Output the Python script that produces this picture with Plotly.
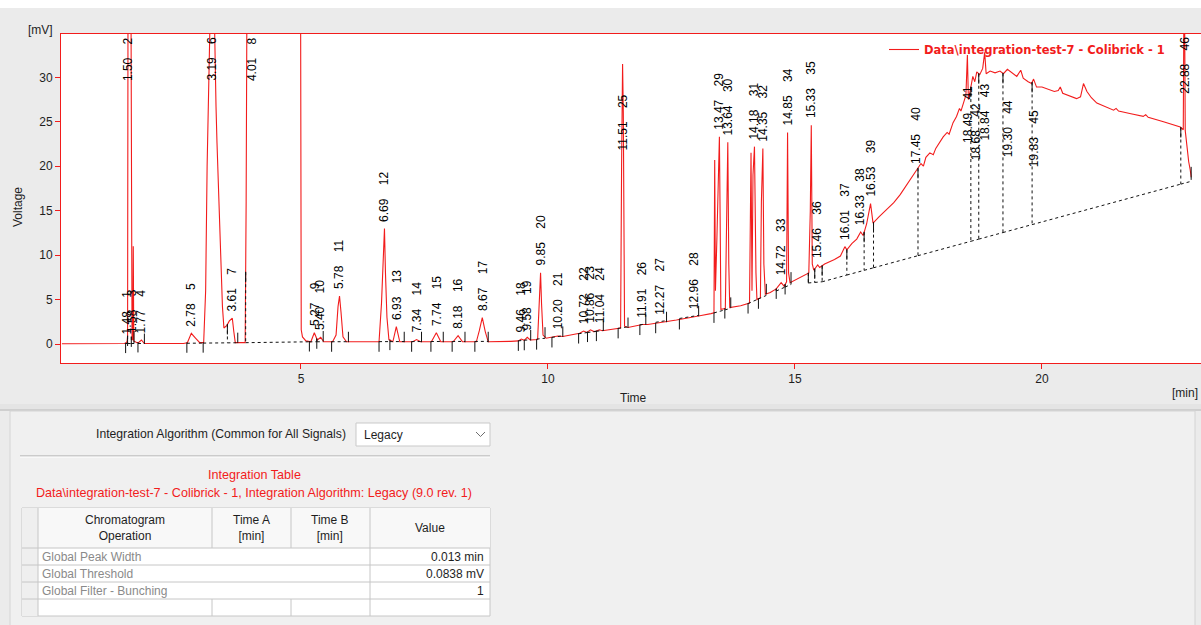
import numpy as np
import plotly.graph_objects as go

# ---------------- peak table (retention time in min, apex in mV) ----------------
peak_no = list(range(1, 47))
peak_rt = [1.48, 1.50, 1.58, 1.77, 2.78, 3.19, 3.61, 4.01, 5.27, 5.40,
           5.78, 6.69, 6.93, 7.34, 7.74, 8.18, 8.67, 9.46, 9.58, 9.85,
           10.20, 10.72, 10.86, 11.04, 11.51, 11.91, 12.27, 12.96, 13.47, 13.64,
           14.18, 14.35, 14.72, 14.85, 15.33, 15.46, 16.01, 16.33, 16.53, 17.45,
           18.49, 18.68, 18.84, 19.30, 19.83, 22.88]
peak_top = [0.3, 45.0, 0.45, 0.45, 1.2, 45.0, 2.9, 45.0, 1.27, 0.75,
            5.4, 13.0, 1.95, 0.5, 1.27, 0.93, 2.96, 0.55, 0.75, 8.0,
            0.9, 1.45, 1.6, 1.6, 31.5, 2.2, 2.45, 3.1, 23.3, 22.7,
            22.2, 22.0, 6.9, 23.8, 24.6, 8.9, 10.95, 12.6, 15.8, 19.4,
            32.5, 30.6, 32.8, 30.9, 29.8, 45.0]
peak_start = [1.45, 1.49, 1.565, 1.70, 2.69, 3.02, 3.51, 3.88, 5.17, 5.32,
              5.62, 6.58, 6.80, 7.24, 7.63, 8.06, 8.52, 9.40, 9.52, 9.77,
              10.08, 10.62, 10.80, 10.98, 11.42, 11.86, 12.18, 12.66, 13.36, 13.58,
              14.05, 14.26, 14.62, 14.80, 15.27, 15.40, 15.55, 16.05, 16.40, 16.59,
              17.49, 18.56, 18.72, 19.21, 19.80, 22.81]
peak_end = [1.49, 1.565, 1.62, 1.83, 3.02, 3.51, 3.72, 5.17, 5.32, 5.45,
            5.96, 6.80, 7.09, 7.44, 7.88, 8.32, 8.79, 9.52, 9.65, 9.94,
            10.30, 10.80, 10.98, 11.12, 11.62, 11.98, 12.40, 13.05, 13.58, 13.70,
            14.26, 14.42, 14.80, 14.92, 15.40, 15.55, 16.05, 16.40, 16.59, 17.49,
            18.56, 18.72, 19.21, 19.80, 22.81, 23.02]

# ---------------- detector signal between the peak apexes ----------------
bg_t = [0.16, 1.00, 1.42, 1.46, 1.49, 1.555, 1.565, 1.595, 1.605, 1.615,
        1.68, 1.72, 1.83, 2.62, 2.70, 2.86, 2.95, 3.03, 3.07, 3.10,
        3.12, 3.14, 3.23, 3.26, 3.28, 3.30, 3.33, 3.36, 3.39, 3.41,
        3.44, 3.50, 3.55, 3.64, 3.67, 3.87, 3.89, 3.91, 4.99, 5.005,
        5.03, 5.10, 5.20, 5.33, 5.46, 5.64, 5.71, 5.75, 5.81, 5.85,
        5.92, 6.58, 6.63, 6.67, 6.71, 6.74, 6.78, 6.86, 7.00, 7.26,
        7.42, 7.64, 7.83, 8.08, 8.27, 8.55, 8.61, 8.73, 8.79, 9.25,
        9.40, 9.52, 9.64, 9.79, 9.82, 9.87, 9.90, 9.96, 10.10, 10.30,
        10.50, 10.64, 10.79, 10.93, 10.98, 11.10, 11.30, 11.47, 11.49, 11.525,
        11.535, 11.55, 11.62, 11.80, 12.02, 12.15, 12.40, 12.60, 12.80, 13.10,
        13.30, 13.36, 13.375, 13.39, 13.42, 13.485, 13.50, 13.59, 13.615, 13.66,
        13.68, 13.90, 14.08, 14.11, 14.13, 14.15, 14.21, 14.23, 14.30, 14.32,
        14.37, 14.40, 14.50, 14.62, 14.78, 14.83, 14.87, 14.90, 15.10, 15.28,
        15.31, 15.35, 15.38, 15.50, 15.60, 15.80, 15.92, 16.05, 16.15, 16.25,
        16.38, 16.45, 16.58, 16.70, 16.86, 17.00, 17.13, 17.30, 17.55, 17.60,
        17.65, 17.73, 17.80, 17.85, 18.00, 18.08, 18.12, 18.20, 18.27, 18.33,
        18.36, 18.41, 18.46, 18.51, 18.55, 18.60, 18.64, 18.74, 18.80, 18.87,
        18.95, 19.05, 19.15, 19.22, 19.40, 19.49, 19.57, 19.62, 19.72, 19.79,
        19.89, 20.00, 20.10, 20.25, 20.33, 20.37, 20.42, 20.55, 20.70, 20.78,
        20.84, 20.91, 21.00, 21.11, 21.30, 21.45, 21.50, 21.55, 21.80, 22.05,
        22.10, 22.15, 22.46, 22.80, 22.86, 22.90, 22.93, 22.97, 23.00, 23.02]
bg_mv = [0.02, 0.02, 0.05, 0.12, 0.9, 45.0, 0.8, 0.5, 11.0, 0.35,
         0.15, 0.2, 0.05, 0.05, 0.15, 0.7, 0.15, 0.15, 6.0, 20.0,
         27.4, 40.0, 42.0, 30.0, 26.7, 22.6, 17.1, 11.7, 7.4, 4.2,
         1.8, 2.1, 2.6, 1.4, 0.15, 0.15, 16.0, 45.0, 45.0, 1.6,
         0.8, 0.35, 0.25, 0.45, 0.25, 0.25, 1.0, 4.2, 3.6, 0.8,
         0.25, 0.25, 4.6, 11.5, 8.0, 3.0, 0.5, 0.25, 0.25, 0.25,
         0.25, 0.25, 0.25, 0.25, 0.25, 0.25, 1.5, 1.4, 0.25, 0.3,
         0.35, 0.42, 0.45, 0.5, 4.5, 4.5, 1.0, 0.65, 0.75, 0.85,
         1.05, 1.2, 1.3, 1.4, 1.45, 1.5, 1.65, 1.8, 20.0, 26.0,
         15.3, 2.0, 1.85, 2.05, 2.2, 2.3, 2.5, 2.7, 2.9, 3.2,
         3.42, 3.5, 20.7, 6.0, 12.0, 14.0, 3.9, 4.0, 17.0, 9.0,
         4.1, 4.3, 4.6, 21.5, 6.0, 19.0, 8.0, 5.0, 5.2, 16.0,
         9.0, 5.6, 5.8, 6.2, 6.5, 7.0, 8.0, 6.9, 7.5, 8.0,
         15.0, 9.0, 8.3, 8.6, 9.0, 9.5, 9.9, 10.6, 11.3, 11.8,
         12.2, 13.5, 13.6, 14.3, 15.1, 15.9, 16.8, 18.2, 20.3, 20.0,
         21.0, 21.5, 21.3, 22.0, 23.3, 23.8, 23.6, 24.9, 25.6, 26.5,
         26.2, 27.1, 28.0, 27.5, 28.6, 30.1, 29.5, 30.3, 31.0, 30.4,
         30.7, 30.5, 30.7, 30.4, 30.5, 30.1, 30.8, 29.9, 29.5, 29.3,
         28.9, 28.9, 28.7, 28.4, 28.5, 28.9, 28.2, 27.9, 27.6, 27.8,
         29.3, 28.4, 27.7, 27.1, 26.7, 26.3, 26.5, 26.2, 25.9, 25.6,
         25.8, 25.5, 25.0, 24.4, 24.1, 24.0, 22.2, 20.5, 19.6, 18.8]

# ---------------- integration baseline anchors ----------------
base_t = [0.16, 2.60, 3.90, 5.20, 9.30, 9.95, 11.47, 13.36, 14.05, 14.92, 15.55, 23.02]
base_mv = [0.02, 0.08, 0.15, 0.25, 0.30, 0.65, 1.80, 3.50, 4.55, 6.70, 7.00, 18.30]

# ---------------- axes ----------------
x_ticks = [5, 10, 15, 20]
y_ticks = [0, 5, 10, 15, 20, 25, 30]
X0, X1 = 0.142, 23.219
Y0, Y1 = -2.137, 34.87

# ---------------- page geometry ----------------
W, H = 1201, 625
ML, MR, MT, MB = 61, 0, 34, 262
PW, PH = W - ML - MR, H - MT - MB
PX_PER_MV = PH / (Y1 - Y0)

RED = "#f21c1c"
FONT = "Liberation Sans, Arial, sans-serif"
WIDE_FONT = "DejaVu Sans, Verdana, sans-serif"
TXT = "#1e1e1e"


def px(x):
    return (x - ML) / PW


def py(y):
    return (H - MB - y) / PH


# chromatogram polyline: signal vertices plus the peak apexes
t_all = np.array(bg_t + peak_rt, dtype=float)
v_all = np.array(bg_mv + peak_top, dtype=float)
order = np.argsort(t_all)
t_all, v_all = t_all[order], v_all[order]


def signal_at(t):
    return float(np.interp(t, t_all, v_all))


def base_at(t):
    return float(np.interp(t, base_t, base_mv))


fig = go.Figure()
fig.add_trace(go.Scatter(
    x=t_all, y=v_all, mode="lines",
    line=dict(color=RED, width=1.1),
    name="Data\\integration-test-7 - Colibrick - 1",
    hoverinfo="skip", showlegend=True,
))

# integration baselines (dashed) and drop lines
dash_x, dash_y = [], []
for s, e in zip(peak_start, peak_end):
    xs = [s] + [b for b in base_t if s < b < e] + [e]
    for xv in xs:
        dash_x.append(xv)
        dash_y.append(base_at(xv))
    dash_x.append(None)
    dash_y.append(None)
boundaries = sorted(set(peak_start) | set(peak_end))
for b in boundaries:
    top, bot = signal_at(b), base_at(b)
    if top - bot > 0.2:
        dash_x += [b, b, None]
        dash_y += [top, bot, None]
fig.add_trace(go.Scatter(
    x=dash_x, y=dash_y, mode="lines",
    line=dict(color="#111111", width=1, dash="3px,3px"),
    hoverinfo="skip", showlegend=False,
))

# peak start / end ticks
TICK_MV = 10 / PX_PER_MV
tick_x, tick_y = [], []
starts = set(peak_start)
for s in peak_start:
    v = signal_at(s)
    tick_x += [s, s, None]
    tick_y += [v + 0.05, v - TICK_MV, None]
for e in peak_end:
    if e in starts:
        continue
    v = signal_at(e)
    tick_x += [e, e, None]
    tick_y += [v - 0.05, v + TICK_MV, None]
fig.add_trace(go.Scatter(
    x=tick_x, y=tick_y, mode="lines",
    line=dict(color="#111111", width=1),
    hoverinfo="skip", showlegend=False,
))

annotations = []

# peak labels: "rt    no", written upwards
NBSP = "\u00a0"


def label_len(s):
    return sum(3.34 if c in "." + NBSP else 6.67 for c in s)


for no, rt, top in zip(peak_no, peak_rt, peak_top):
    text = f"{rt:.2f}" + NBSP * 4 + str(no)
    ann = dict(x=rt, xref="x", xanchor="center", text=text, textangle=-90,
               showarrow=False, font=dict(family=FONT, size=12, color="#000000"),
               borderpad=0)
    if top >= Y1:
        ann.update(y=1, yref="paper", yanchor="top", yshift=-2)
    elif (Y1 - top) * PX_PER_MV - 6 < label_len(text) + 3:
        ann.update(y=top, yref="y", yanchor="top", yshift=-30)
    else:
        ann.update(y=top, yref="y", yanchor="bottom", yshift=6)
    annotations.append(ann)


def note(x, y, text, size=12, color=TXT, xanchor="center", angle=0, weight="normal"):
    annotations.append(dict(
        x=px(x), y=py(y), xref="paper", yref="paper", text=text,
        xanchor=xanchor, yanchor="middle", showarrow=False, textangle=angle,
        font=dict(family=FONT, size=size, color=color, weight=weight),
    ))


# axis captions
note(40, 30, "[mV]")
note(18, 207, "Voltage", angle=-90)
note(633, 398, "Time")
note(1200, 393, "[min]", xanchor="right")

# ---------------- lower settings panel ----------------
shapes = []


def rect(x0, y0, x1, y1, fill, line=None, lw=1):
    shapes.append(dict(
        type="rect", xref="paper", yref="paper",
        x0=px(x0), x1=px(x1), y0=py(y1), y1=py(y0),
        fillcolor=fill, line=dict(color=line or fill, width=lw if line else 0),
    ))


def hline(x0, x1, y, color, lw=1):
    shapes.append(dict(type="line", xref="paper", yref="paper",
                       x0=px(x0), x1=px(x1), y0=py(y), y1=py(y),
                       line=dict(color=color, width=lw)))


def vline(x, y0, y1, color, lw=1):
    shapes.append(dict(type="line", xref="paper", yref="paper",
                       x0=px(x), x1=px(x), y0=py(y0), y1=py(y1),
                       line=dict(color=color, width=lw)))


rect(0, 0, W, 8, "#ffffff")
rect(0, 404, W, 409, "#e4e4e4")
rect(0, 409, W, 411, "#cfcfcf")
rect(10, 411, 1195, H + 2, "#f0f0f0", line="#d4d4d4")

# algorithm selector
note(348, 434, "Integration Algorithm (Common for All Signals)", xanchor="right", size=12.2)
rect(356, 423, 490, 446, "#ffffff", line="#c9c9c9")
note(362, 435, "Legacy", xanchor="left")
shapes.append(dict(
    type="path", xref="paper", yref="paper",
    path=f"M {px(476)},{py(432)} L {px(480.5)},{py(436.5)} L {px(485)},{py(432)}",
    line=dict(color="#6e6e6e", width=1),
))
hline(20, 490, 456, "#a6a6a6")
hline(20, 490, 457, "#ffffff")

# table caption
note(254, 475, "Integration Table", color=RED, size=12.6)
note(254, 493, "Data\\integration-test-7 - Colibrick - 1, Integration Algorithm: Legacy (9.0 rev. 1)",
     color=RED, size=12.6)

# table grid
rect(22, 508, 490, 616, "#ffffff", line="#c6c6c6")
rect(38, 508, 490, 548, "#f8f8f8")
rect(22, 508, 38, 616, "#efefef")
GRID = "#c6c6c6"
vline(38, 508, 616, GRID)
vline(370, 508, 616, GRID)
for xc in (212, 291):
    vline(xc, 508, 548, GRID)
    vline(xc, 599, 616, GRID)
for yr in (548, 565, 582, 599):
    hline(22, 490, yr, GRID)

header_x = [125, 251, 330, 430]
header_text = ["Chromatogram<br>Operation", "Time A<br>[min]", "Time B<br>[min]", "Value"]
for hx, ht in zip(header_x, header_text):
    note(hx, 528, ht)

row_names = ["Global Peak Width", "Global Threshold", "Global Filter - Bunching"]
row_values = ["0.013 min", "0.0838 mV", "1"]
for i, (nm, val) in enumerate(zip(row_names, row_values)):
    yc = 557 + 17 * i
    note(40, yc, nm, color="#8a8a8a", xanchor="left")
    note(486, yc, val, xanchor="right")

fig.update_layout(
    width=W, height=H,
    margin=dict(l=ML, r=MR, t=MT, b=MB, pad=0),
    paper_bgcolor="#ebebeb", plot_bgcolor="#ffffff",
    font=dict(family=FONT, size=12, color=TXT),
    showlegend=True,
    legend=dict(
        x=px(884), y=py(35), xanchor="left", yanchor="top",
        bgcolor="rgba(0,0,0,0)", borderwidth=0, itemwidth=30,
        font=dict(family=WIDE_FONT, size=11.5, color=RED, weight="bold"),
    ),
    xaxis=dict(
        range=[X0, X1], tickvals=x_ticks, ticktext=[str(v) for v in x_ticks],
        ticks="outside", ticklen=5, tickcolor=RED, tickwidth=1,
        showline=True, linecolor=RED, linewidth=1, mirror=True,
        showgrid=False, zeroline=False,
        tickfont=dict(family=FONT, size=12, color=TXT),
    ),
    yaxis=dict(
        range=[Y0, Y1], tickvals=y_ticks, ticktext=[str(v) for v in y_ticks],
        ticks="outside", ticklen=5, tickcolor=RED, tickwidth=1,
        showline=True, linecolor=RED, linewidth=1, mirror=False,
        showgrid=False, zeroline=False,
        tickfont=dict(family=FONT, size=12, color=TXT),
    ),
    annotations=annotations,
    shapes=shapes,
)

fig.write_html("out.html", config={"displayModeBar": False})
